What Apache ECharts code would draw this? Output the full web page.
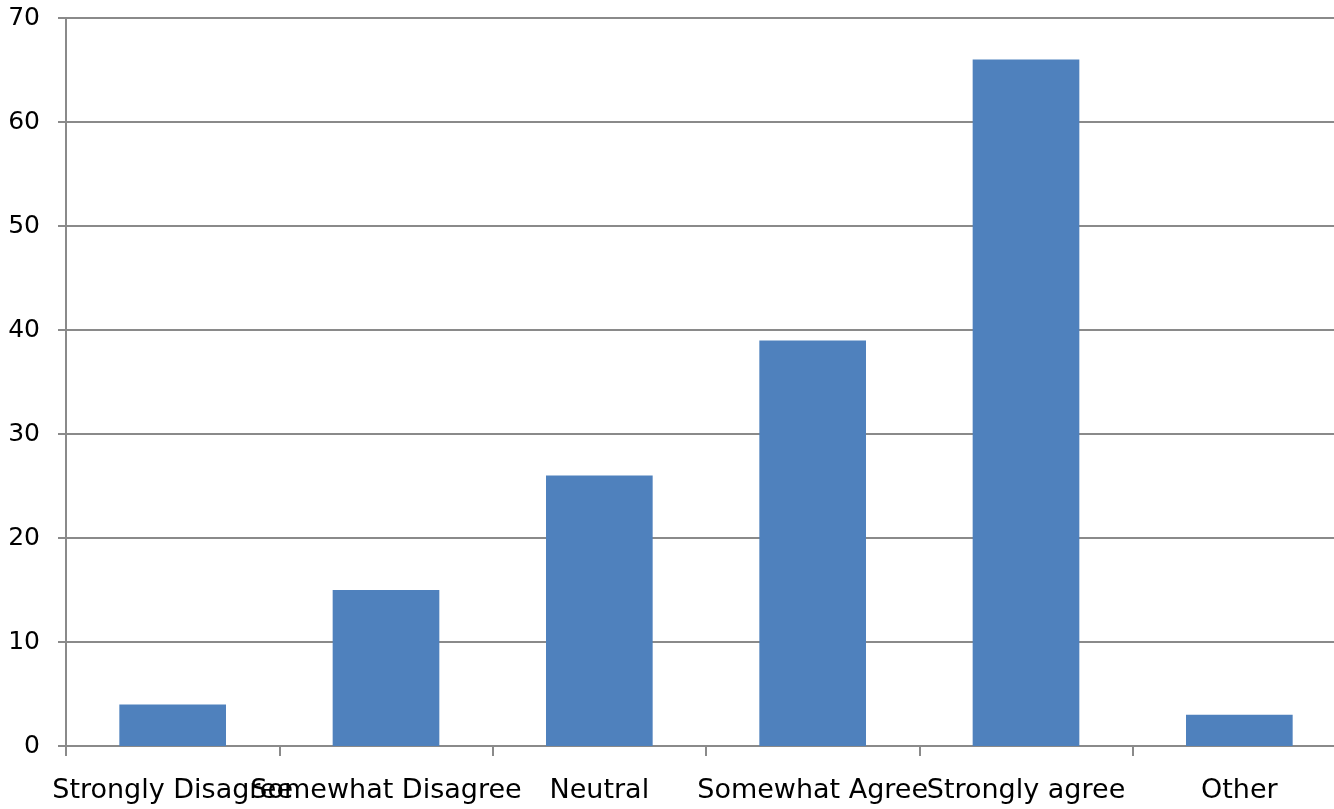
<!DOCTYPE html>
<html>
<head>
<meta charset="utf-8">
<script src="https://cdn.jsdelivr.net/npm/echarts@6/dist/echarts.min.js"></script>
<style>
  html, body { margin: 0; padding: 0; background: #fff; overflow: hidden; }
  /* the plot runs slightly past the right edge of the window */
  #chart { width: 1346px; height: 809px; }
</style>
</head>
<body>
<div id="chart"></div>
<script>
// Survey responses per answer option
const categories = ['Strongly Disagree', 'Somewhat Disagree', 'Neutral', 'Somewhat Agree', 'Strongly agree', 'Other'];
const responses = [4, 15, 26, 39, 66, 3];
const yTicks = { min: 0, max: 70, step: 10 };

const lineGrey = '#8a8a8a';
const chart = echarts.init(document.getElementById('chart'));
chart.setOption({
  animation: false,
  grid: { left: 66, right: 0, top: 18, bottom: 63, containLabel: false },
  xAxis: {
    type: 'category',
    data: categories,
    boundaryGap: true,
    axisLine: { lineStyle: { color: lineGrey, width: 2 } },
    axisTick: { show: true, length: 10, lineStyle: { color: lineGrey, width: 2 } },
    axisLabel: {
      interval: 0,
      margin: 31,
      color: '#000',
      fontFamily: 'DejaVu Sans',
      fontSize: 27
    }
  },
  yAxis: {
    type: 'value',
    min: yTicks.min,
    max: yTicks.max,
    interval: yTicks.step,
    axisLine: { show: true, lineStyle: { color: lineGrey, width: 2 } },
    axisTick: { show: true, length: 8, lineStyle: { color: lineGrey, width: 2 } },
    splitLine: { show: true, lineStyle: { color: lineGrey, width: 2 } },
    axisLabel: {
      margin: 26,
      color: '#000',
      fontFamily: 'DejaVu Sans',
      fontSize: 25
    }
  },
  series: [{
    type: 'bar',
    data: responses,
    barCategoryGap: '50%',
    itemStyle: { color: '#4F81BD' }
  }]
});
</script>
</body>
</html>
